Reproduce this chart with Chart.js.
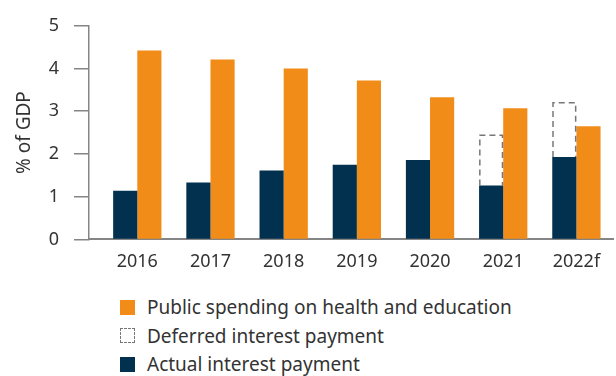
<!DOCTYPE html>
<html>
<head>
<meta charset="utf-8">
<script src="https://cdn.jsdelivr.net/npm/chart.js@4.4.1/dist/chart.umd.min.js"></script>
<style>
    html, body { margin: 0; padding: 0; background: #fff; }
    #wrap { position: relative; width: 616px; height: 376px; font-family: "Noto Sans", sans-serif; color: #333; }
    #chart-box { position: absolute; left: 0; top: 0; width: 616px; height: 285px; }
    #legend { position: absolute; left: 120px; top: 293px; }
    .item { display: flex; align-items: center; height: 28.5px; font-size: 19px; white-space: nowrap; }
    .swatch { width: 15px; height: 15px; margin-right: 12px; box-sizing: border-box; }
</style>
</head>
<body>
<div id="wrap">
    <div id="chart-box"><canvas id="debt-chart"></canvas></div>
    <div id="legend"></div>
</div>
<script>
// Chart data (% of GDP)
const years = ['2016', '2017', '2018', '2019', '2020', '2021', '2022f'];
const actualInterest = [1.14, 1.33, 1.61, 1.75, 1.86, 1.26, 1.93];
const deferredInterest = [null, null, null, null, null, 1.18, 1.27];
const healthEducation = [4.42, 4.21, 4.00, 3.72, 3.33, 3.07, 2.65];
const yTicks = [0, 1, 2, 3, 4, 5];

const NAVY = '#02314f';
const ORANGE = '#f18c19';
const DASH_GREY = '#777777';
const AXIS_GREY = '#858585';
const FONT = 'Noto Sans';

// bars sit on a linear x axis so the first group can start a little off the y axis
function toPoints(values) {
    return values.map((v, i) => ({ x: i, y: v }));
}

// Deferred payments are drawn as a dashed outline on top of the actual payment
const dashedOutline = {
    id: 'dashedOutline',
    afterDatasetsDraw(chart) {
        const meta = chart.getDatasetMeta(1);
        const ctx = chart.ctx;
        ctx.save();
        ctx.strokeStyle = DASH_GREY;
        ctx.lineWidth = 1.5;
        ctx.setLineDash([6, 4]);
        meta.data.forEach((bar, i) => {
            if (deferredInterest[i] === null) return;
            const p = bar.getProps(['x', 'y', 'base', 'width'], true);
            const left = p.x - p.width / 2 + 0.75;
            const right = p.x + p.width / 2 - 0.75;
            ctx.beginPath();
            ctx.moveTo(left, p.base);
            ctx.lineTo(left, p.y);
            ctx.lineTo(right, p.y);
            ctx.lineTo(right, p.base);
            ctx.stroke();
        });
        ctx.restore();
    }
};

const ctx = document.getElementById('debt-chart');
new Chart(ctx, {
    type: 'bar',
    data: {
        datasets: [
            {
                label: 'Actual interest payment',
                data: toPoints(actualInterest),
                backgroundColor: NAVY,
                stack: 'interest'
            },
            {
                label: 'Deferred interest payment',
                data: toPoints(deferredInterest),
                backgroundColor: 'rgba(0,0,0,0)',
                stack: 'interest'
            },
            {
                label: 'Public spending on health and education',
                data: toPoints(healthEducation),
                backgroundColor: ORANGE,
                stack: 'spending'
            }
        ]
    },
    options: {
        responsive: true,
        maintainAspectRatio: false,
        animation: false,
        categoryPercentage: 0.66,
        barPercentage: 1,
        layout: { padding: { top: 23, right: 3, left: 0, bottom: 0 } },
        plugins: {
            legend: { display: false },
            tooltip: { enabled: false }
        },
        scales: {
            x: {
                type: 'linear',
                min: -0.66,
                max: 6.5,
                offset: false,
                stacked: true,
                grid: { display: false, drawTicks: false },
                border: { display: true, color: AXIS_GREY, width: 2 },
                afterBuildTicks: scale => {
                    scale.ticks = years.map((_, i) => ({ value: i }));
                },
                ticks: {
                    autoSkip: false,
                    maxRotation: 0,
                    padding: 12,
                    color: '#333',
                    font: { family: FONT, size: 18 },
                    callback: value => years[value] ?? ''
                }
            },
            y: {
                min: 0,
                max: 5,
                stacked: true,
                afterBuildTicks: scale => {
                    scale.ticks = yTicks.map(v => ({ value: v }));
                },
                afterFit: scale => {
                    scale.width = 89;
                },
                grid: {
                    drawOnChartArea: false,
                    drawTicks: true,
                    tickLength: 15,
                    color: AXIS_GREY,
                    lineWidth: 1.5
                },
                border: { display: true, color: AXIS_GREY, width: 1.5 },
                ticks: {
                    padding: 15,
                    color: '#333',
                    font: { family: FONT, size: 18 }
                },
                title: {
                    display: true,
                    text: '% of GDP',
                    color: '#333',
                    font: { family: FONT, size: 19 },
                    padding: { top: 13, bottom: 0 }
                }
            }
        }
    },
    plugins: [dashedOutline]
});

// Legend below the chart, one entry per line
const legendItems = [
    { text: 'Public spending on health and education', style: 'background:' + ORANGE },
    { text: 'Deferred interest payment', style: 'border:1.5px dashed ' + DASH_GREY },
    { text: 'Actual interest payment', style: 'background:' + NAVY }
];
const legendEl = document.getElementById('legend');
legendItems.forEach(item => {
    const row = document.createElement('div');
    row.className = 'item';
    const swatch = document.createElement('span');
    swatch.className = 'swatch';
    swatch.style.cssText = item.style;
    const label = document.createElement('span');
    label.textContent = item.text;
    row.appendChild(swatch);
    row.appendChild(label);
    legendEl.appendChild(row);
});
</script>
</body>
</html>
